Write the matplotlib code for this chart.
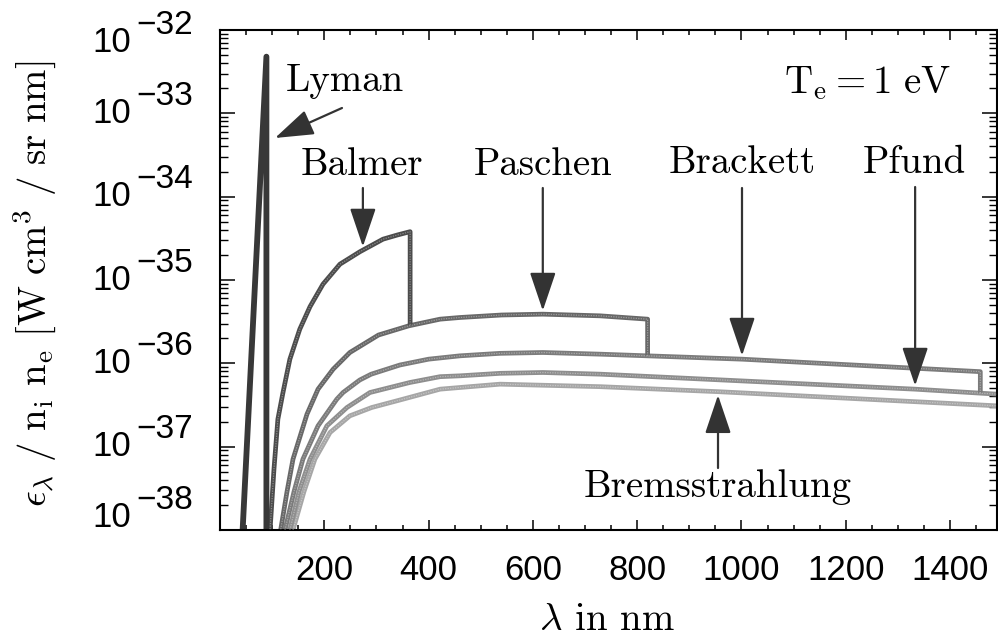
import numpy as np
import matplotlib
matplotlib.use("Agg")
import matplotlib.pyplot as plt
from matplotlib.ticker import MultipleLocator, LogLocator, NullFormatter, FixedLocator

plt.rcParams['mathtext.fontset'] = 'cm'

# ---------------- data (log10 of emissivity, wavelength in nm) ----------------
lyman_nm = [43, 89]
lyman_log = [-38.05, -32.32]

balmer_nm = [95.5, 103.5, 111, 120.8, 134, 153, 172.6, 197.5, 230, 268.5, 312.6, 340, 364.6]
balmer_log = [-38.05, -37.27, -36.67, -36.35, -35.95, -35.59, -35.32, -35.05, -34.81, -34.66, -34.51, -34.46, -34.42]

paschen_nm = [111, 128.5, 140, 166.8, 188, 217, 249, 304, 362, 422, 460, 540, 619, 729, 820]
paschen_log = [-38.2, -37.54, -37.15, -36.61, -36.31, -36.07, -35.87, -35.66, -35.55, -35.47, -35.45, -35.42, -35.41, -35.43, -35.47]

brackett_nm = [120, 124.6, 141.9, 159, 188, 224, 236, 268, 290, 345, 400, 460, 537, 619, 729, 1001, 1458]
brackett_log = [-38.3, -38.0, -37.54, -37.15, -36.75, -36.43, -36.35, -36.20, -36.13, -36.02, -35.95, -35.91, -35.88, -35.87, -35.89, -35.95, -36.10]

pfund_nm = [130, 134, 151.5, 172.6, 205, 243.5, 287.6, 364, 422, 460, 537, 619, 729, 1333, 1490]
pfund_log = [-38.3, -38.0, -37.54, -37.15, -36.75, -36.53, -36.35, -36.23, -36.16, -36.15, -36.12, -36.11, -36.13, -36.31, -36.37]

brems_nm = [136, 140, 161, 182, 211, 249, 291, 351, 422, 460, 537, 729, 955, 1490]
brems_log = [-38.3, -38.0, -37.54, -37.15, -36.83, -36.63, -36.53, -36.43, -36.31, -36.29, -36.25, -36.28, -36.34, -36.51]

x_ticks = [200, 400, 600, 800, 1000, 1200, 1400]
x_ticklabels = ['200', '400', '600', '800', '1000', '1200', '1400']
y_decades = [-38, -37, -36, -35, -34, -33, -32]

# arrow targets (wavelength in nm) on each series
arrow_nm = {'Balmer': 274, 'Paschen': 619, 'Brackett': 1001, 'Pfund': 1333, 'Bremsstrahlung': 955}

# ---------------- figure ----------------
fig = plt.figure(figsize=(9.98, 6.40), dpi=100)
ax = fig.add_axes([220/998, 110/640, 777/998, 500/640])
ax.set_yscale('log')
ax.set_xlim(0, 1490)
ax.set_ylim(1e-38, 1e-32)


def path(nm, lg, nxt=None):
    x = list(nm)
    y = list(lg)
    if nxt is not None:
        x.append(nm[-1])
        y.append(float(np.interp(nm[-1], nxt[0], nxt[1])))
    return np.array(x), 10.0 ** np.array(y)


series = {
    'Bremsstrahlung': (brems_nm, brems_log, None, '#a6a6a6', 3.4),
    'Pfund': (pfund_nm, pfund_log, None, '#8e8e8e', 3.4),
    'Brackett': (brackett_nm, brackett_log, (pfund_nm, pfund_log), '#7b7b7b', 3.4),
    'Paschen': (paschen_nm, paschen_log, (brackett_nm, brackett_log), '#686868', 3.4),
    'Balmer': (balmer_nm, balmer_log, (paschen_nm, paschen_log), '#4c4c4c', 3.4),
    'Lyman': (lyman_nm, lyman_log, (balmer_nm, balmer_log), '#383838', 4.2),
}
for name, (nm, lg, nxt, col, lw) in series.items():
    x, y = path(nm, lg, nxt)
    ax.plot(x, y, color=col, lw=lw, solid_joinstyle='round', solid_capstyle='butt', zorder=2)
    if name != 'Lyman':
        ax.plot(x, y, color='white', lw=0.9, alpha=0.35, ls=(0, (1, 1)), zorder=3)

# ticks
ax.xaxis.set_major_locator(FixedLocator(x_ticks))
ax.set_xticklabels(x_ticklabels)
ax.xaxis.set_minor_locator(MultipleLocator(50))
ax.yaxis.set_major_locator(FixedLocator([10.0 ** d for d in y_decades]))
ax.yaxis.set_minor_locator(LogLocator(base=10, subs=np.arange(2, 10)))
ax.yaxis.set_major_formatter(NullFormatter())
ax.yaxis.set_minor_formatter(NullFormatter())
ax.tick_params(axis='x', which='major', direction='in', length=7, width=1.1, top=True,
               pad=17, labelsize=25)
ax.tick_params(axis='x', which='minor', direction='in', length=3.6, width=1.1, top=True)
ax.tick_params(axis='y', which='major', direction='in', length=11, width=1.1, right=True)
ax.tick_params(axis='y', which='minor', direction='in', length=5.5, width=1.0, right=True)
for lab in ax.get_xticklabels():
    lab.set_fontfamily('Liberation Sans')
for sp in ax.spines.values():
    sp.set_linewidth(1.5)

# y tick labels: 10 with large raised exponent
for d in y_decades:
    shift = 0
    if d == y_decades[-1]:
        shift = -9
    elif d == y_decades[0]:
        shift = 9
    ax.annotate('10', xy=(-0.1145, 10.0 ** d), xycoords=('axes fraction', 'data'),
                xytext=(0, shift), textcoords='offset points', ha='right', va='center',
                fontsize=25, family='Liberation Sans', annotation_clip=False)
    ax.annotate('\u2212' + str(-d), xy=(-0.108, 10.0 ** d), xycoords=('axes fraction', 'data'),
                xytext=(0, shift + 12), textcoords='offset points', ha='left', va='center',
                fontsize=24, family='Liberation Sans', annotation_clip=False)

# axis labels
fig.text(607/998, 1 - 620/640, r'$\lambda$ in nm', ha='center', va='center',
         fontsize=28, family='cmr10')
fig.text(35/998, 1 - 284/640,
         r'$\epsilon_\lambda\ /\ \mathrm{n_i\ n_e}\ [\mathrm{W\ cm^3\ /\ sr\ nm}]$',
         rotation=90, ha='center', va='center', fontsize=28)

# in-plot texts
ax.text(0.94, 0.894, r'$\mathrm{T_e = 1\ eV}$', transform=ax.transAxes, ha='right',
        va='center', fontsize=28)
labels = {'Lyman': (0.161, 0.898), 'Balmer': (0.183, 0.730), 'Paschen': (0.416, 0.730),
          'Brackett': (0.672, 0.734), 'Pfund': (0.893, 0.734), 'Bremsstrahlung': (0.641, 0.086)}
for name, (fx, fy) in labels.items():
    ax.text(fx, fy, name, transform=ax.transAxes, ha='center', va='center',
            fontsize=28, family='cmr10')

arrow_style = dict(arrowstyle='-|>,head_length=0.8,head_width=0.27', mutation_scale=30,
                   color='#333333', lw=1.6, shrinkA=0)
# Lyman arrow (diagonal)
ax.annotate('', xy=(0.0708, 0.784), xycoords='axes fraction', xytext=(0.157, 0.844),
            textcoords='axes fraction', arrowprops=dict(arrow_style, shrinkB=0))

tails = {'Balmer': 0.684, 'Paschen': 0.684, 'Brackett': 0.684, 'Pfund': 0.686,
         'Bremsstrahlung': 0.124}
for name, lam in arrow_nm.items():
    nm, lg = series[name][0], series[name][1]
    yv = 10.0 ** np.interp(lam, nm, lg)
    ax.annotate('', xy=(lam, yv), xycoords='data', xytext=(lam, tails[name]),
                textcoords=('data', 'axes fraction'),
                arrowprops=dict(arrow_style, shrinkB=2.5))

fig.savefig('out.png', dpi=100)
